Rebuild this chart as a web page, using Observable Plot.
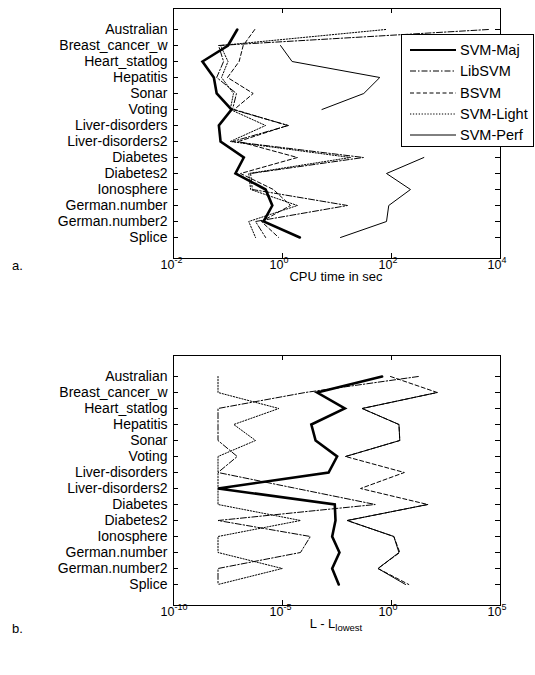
<!DOCTYPE html>
<html><head><meta charset="utf-8">
<script src="https://cdn.jsdelivr.net/npm/d3@7"></script>
<script src="https://cdn.jsdelivr.net/npm/@observablehq/plot@0.6"></script>
<style>
body{margin:0;background:#fff;font-family:"Liberation Sans",Arial,sans-serif;color:#000;}
#wrap{position:relative;width:535px;height:675px;overflow:hidden;}
.abs{position:absolute;}
#legend{position:absolute;left:401px;top:34px;width:131px;height:111px;border:1px solid #000;background:#fff;font-size:14.5px;}
#legend .row{position:absolute;left:8px;height:16px;display:flex;align-items:center;}
#legend .row span{margin-left:4px;}
</style></head>
<body><div id="wrap"></div>
<script>
const categories = ["Australian","Breast_cancer_w","Heart_statlog","Hepatitis","Sonar","Voting","Liver-disorders","Liver-disorders2","Diabetes","Diabetes2","Ionosphere","German.number","German.number2","Splice"];
const seriesNames = ["SVM-Maj","LibSVM","BSVM","SVM-Light","SVM-Perf"];

// panel a: CPU time in sec
const cpuMaj   = [0.148, 0.10, 0.034, 0.055, 0.062, 0.116, 0.068, 0.073, 0.195, 0.137, 0.49, 0.65, 0.45, 2.08];
const cpuLib   = [6000, 0.067, 0.083, 0.062, 0.143, 0.121, 1.29, 0.121, 30.6, 0.26, 0.28, 15.6, 0.32, 0.49];
const cpuBSVM  = [0.31, 0.19, 0.16, 0.098, 0.29, 0.13, 1.24, 0.156, 1.88, 0.17, 0.68, 1.4, 0.41, 0.85];
const cpuLight = [78, 0.073, 0.10, 0.076, 0.126, 0.11, 0.49, 0.11, 17.7, 0.24, 0.26, 1.88, 0.24, 0.32];
const cpuPerf  = [null, 0.92, 1.5, 61, 31, 5.3, null, null, 392, 81, 223, 89, 81, 11.6];
const cpuTicks = [1e-2, 1e0, 1e2, 1e4];

// panel b: L - L_lowest
const lossMaj   = [0.37, 3.9e-4, 7.2e-3, 2.1e-4, 3.3e-4, 3.2e-3, 1.3e-3, 1.1e-8, 2.5e-3, 2.7e-3, 1.9e-3, 4.1e-3, 1.9e-3, 3.8e-3];
const lossLib   = [17, 1.1e-4, 1.1e-8, 1.1e-8, 1.1e-8, 8.4e-8, 1.1e-8, 4.4e-5, 0.18, 1.1e-8, 1.9e-4, 6.7e-5, 1.1e-8, 1.1e-8];
const lossBSVM  = [0.9, 125, 0.045, 2.2, 2.4, 7.8e-3, 3.9, 0.038, 46, 9.3e-3, 1.28, 2.4, 0.24, 6.2];
const lossLight = [1.1e-8, 1.1e-8, 6.8e-6, 5.8e-8, 5.8e-7, 1.1e-8, 1.1e-8, 1.1e-8, 1.1e-8, 6.7e-5, 1.1e-8, 1.1e-8, 9.7e-6, 1.1e-8];
const lossPerf  = [null, 125, 0.045, 2.2, 2.4, 7.8e-3, null, null, 46, 9.3e-3, 1.28, 2.2, 0.24, 4.4];
const lossTicks = [1e-10, 1e-5, 1e0, 1e5];

const styles = {
  "SVM-Maj":   {dash: null, w: 2.6},
  "LibSVM":    {dash: "6,2,1.5,2", w: 1},
  "BSVM":      {dash: "4,2.5", w: 1},
  "SVM-Light": {dash: "1.3,1.6", w: 1},
  "SVM-Perf":  {dash: null, w: 1}
};
const drawOrder = ["SVM-Perf","SVM-Light","BSVM","LibSVM","SVM-Maj"];

const FW = 327, FH = 250;
function chart(seriesArrays, ticks, domain) {
  const lines = drawOrder.map(name => {
    const arr = seriesArrays[name];
    const rows = categories.map((c, i) => ({cat: c, v: arr[i]}));
    return Plot.line(rows, {x: "v", y: "cat", stroke: "black", strokeWidth: styles[name].w,
      strokeDasharray: styles[name].dash, strokeLinejoin: "miter", strokeMiterlimit: 3});
  });
  return Plot.plot({
    width: 535, height: 300,
    marginLeft: 173, marginRight: 35, marginTop: 8, marginBottom: 42,
    x: {type: "log", domain, axis: null},
    y: {type: "point", domain: categories, padding: 1, axis: null},
    style: {fontFamily: "'Liberation Sans', Arial, sans-serif", fontSize: "14px", color: "black", background: "white", overflow: "visible"},
    marks: [
      ...lines,
      Plot.frame({stroke: "black", strokeWidth: 1}),
      Plot.axisY({tickSize: 0, tickPadding: 6, fontSize: 14, label: null}),
      Plot.tickX(ticks, {x: d => d, insetTop: FH - 5}),
      Plot.tickX(ticks, {x: d => d, insetBottom: FH - 5}),
      Plot.tickY(categories, {y: d => d, insetRight: FW - 5}),
      Plot.tickY(categories, {y: d => d, insetLeft: FW - 5}),
      Plot.text(ticks, {x: d => d, text: () => "10", frameAnchor: "bottom", dy: 10, dx: 1, textAnchor: "end", fontSize: 12.5}),
      Plot.text(ticks, {x: d => d, text: d => String(Math.round(Math.log10(d))), frameAnchor: "bottom", dy: 4, dx: 1, textAnchor: "start", fontSize: 9})
    ]
  });
}

const wrap = document.getElementById("wrap");
const a = chart({"SVM-Maj": cpuMaj, "LibSVM": cpuLib, "BSVM": cpuBSVM, "SVM-Light": cpuLight, "SVM-Perf": cpuPerf}, cpuTicks, [1e-2, 1e4]);
a.style.position = "absolute"; a.style.left = "0px"; a.style.top = "0px";
wrap.appendChild(a);
const b = chart({"SVM-Maj": lossMaj, "LibSVM": lossLib, "BSVM": lossBSVM, "SVM-Light": lossLight, "SVM-Perf": lossPerf}, lossTicks, [1e-10, 1e5]);
b.style.position = "absolute"; b.style.left = "0px"; b.style.top = "347px";
wrap.appendChild(b);

function addText(html, left, top, size, anchorCenter) {
  const d = document.createElement("div");
  d.className = "abs";
  d.innerHTML = html;
  d.style.fontSize = size + "px";
  d.style.top = top + "px";
  d.style.whiteSpace = "nowrap";
  d.style.left = left + "px";
  if (anchorCenter) d.style.transform = "translateX(-50%)";
  wrap.appendChild(d);
}
addText("CPU time in sec", 336, 269, 13, true);
addText("a.", 12, 258, 13, false);
addText("L - L<sub style='font-size:9.5px;vertical-align:-3px'>lowest</sub>", 336, 616, 13, true);
addText("b.", 12, 621, 13, false);

// legend
const leg = document.createElement("div");
leg.id = "legend";
seriesNames.forEach((name, i) => {
  const r = document.createElement("div");
  r.className = "row";
  r.style.top = (7 + i * 21.3) + "px";
  const st = styles[name];
  r.innerHTML = `<svg width="46" height="10"><line x1="0" y1="5" x2="46" y2="5" stroke="black" stroke-width="${name === "SVM-Maj" ? 2.2 : 1}" ${st.dash ? `stroke-dasharray="${st.dash}"` : ""}/></svg><span>${name}</span>`;
  leg.appendChild(r);
});
wrap.appendChild(leg);
</script>
</body></html>
